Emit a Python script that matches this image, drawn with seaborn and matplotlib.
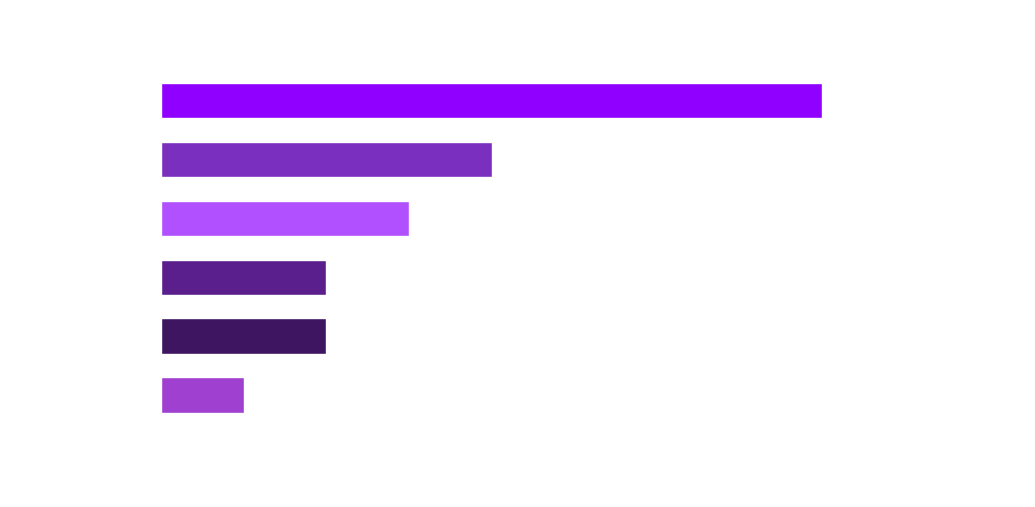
import matplotlib
matplotlib.use("Agg")
import matplotlib.pyplot as plt
import seaborn as sns
import pandas as pd

# values (no labels shown in the picture)
categories = ["A", "B", "C", "D", "E", "F"]
values = [8, 4, 3, 2, 2, 1]
colors = ["#8f00ff", "#7a2fbf", "#b150ff", "#5b1f8d", "#3d1560", "#a040d0"]

df = pd.DataFrame({"category": categories, "value": values})

sns.set_style("white")
fig = plt.figure(figsize=(10.35, 5.07), dpi=100)
W, H = 1035, 507
# axes placed so that bars span x=161..822 and rows sit between y=71..425 px
ax = fig.add_axes([161 / W, 1 - 424.5 / H, (822 - 161) / W, (424.5 - 71) / H])

sns.barplot(data=df, x="value", y="category", hue="category",
            palette=colors, orient="h", width=0.6, legend=False,
            saturation=1, ax=ax)

ax.set_xlim(0, 8)
ax.set_ylim(5.5, -0.5)
ax.set_axis_off()

fig.savefig("out.png", dpi=100, facecolor="white")
